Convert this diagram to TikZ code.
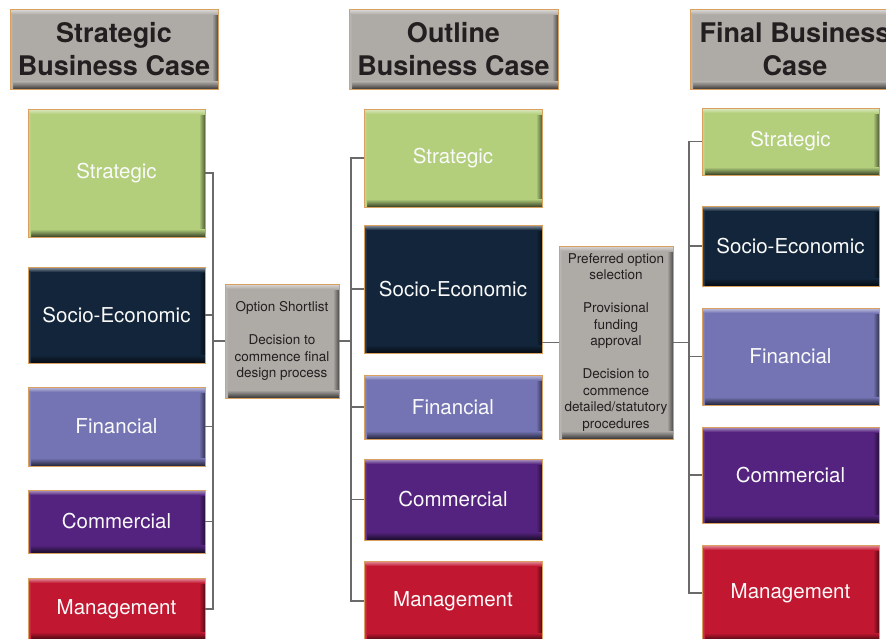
\documentclass[tikz,border=0pt]{standalone}
\usepackage{fontspec}
\setmainfont{TeX Gyre Heros}
\definecolor{cgreen}{HTML}{B3CF7B}
\definecolor{cnavy}{HTML}{12253A}
\definecolor{cfin}{HTML}{7474B4}
\definecolor{cpurp}{HTML}{54237F}
\definecolor{cred}{HTML}{C21730}
\definecolor{cgray}{HTML}{AEAAA6}
\definecolor{edgec}{HTML}{D9A05F}
\definecolor{linec}{HTML}{6A6A6A}
\definecolor{headtxt}{HTML}{231F20}
\tikzset{
  bev/.style={draw=edgec, line width=0.7pt, fill=#1, inner sep=0pt, align=center,
    path picture={
      \coordinate (pp-sw) at (path picture bounding box.south west);
      \coordinate (pp-ne) at (path picture bounding box.north east);
      \coordinate (pp-se) at (pp-sw -| pp-ne);
      \coordinate (pp-nw) at (pp-sw |- pp-ne);
      \shade[left color=#1, right color=#1!45!black] ([xshift=-6pt]pp-se) rectangle (pp-ne);
      \shade[top color=#1, bottom color=#1!30!black] (pp-sw) rectangle ([yshift=8pt]pp-se);
      \shade[top color=#1!45!white, bottom color=#1] ([yshift=-5pt]pp-nw) rectangle (pp-ne);
      \shade[left color=#1!80!white, right color=#1] (pp-sw) rectangle ([xshift=3pt,yshift=-5pt]pp-nw);
    }},
  head/.style={bev=cgray, minimum width=#1, minimum height=80pt, text=headtxt,
    font=\fontsize{27}{33}\selectfont\bfseries},
  card/.style={bev=#1, minimum width=177pt, text=white!96!gray,
    font=\fontsize{20.5}{24}\selectfont},
  gate/.style={bev=cgray, minimum width=114pt, text=headtxt,
    font=\fontsize{13.5}{16.5}\selectfont},
  conn/.style={draw=linec, line width=1.3pt},
}
\begin{document}
\begin{tikzpicture}[x=1pt,y=1pt]
\useasboundingbox (0,0) rectangle (886,-638);
\clip (0,0) rectangle (886,-638);
\fill[white] (0,0) rectangle (886,-638);

% headers
\node[head=208pt] (H1) at (114,-49.5) {Strategic\\Business Case};
\node[head=209pt] (H2) at (453.5,-49.5) {Outline\\Business Case};
\node[head=210pt] (H3) at (795,-49.5) {Final Business\\Case};

% column 1
\node[card=cgreen, minimum height=128pt] (S1) at (116.5,-173) {Strategic};
\node[card=cnavy,  minimum height=96pt]  (E1) at (116.5,-315) {Socio-Economic};
\node[card=cfin,   minimum height=79pt]  (F1) at (116.5,-426.5) {Financial};
\node[card=cpurp,  minimum height=63pt]  (C1) at (116.5,-521.5) {Commercial};
\node[card=cred,   minimum height=62pt]  (M1) at (116.5,-609) {Management};

% column 2
\node[card=cgreen, minimum width=178pt, minimum height=98pt]  (S2) at (453,-158) {Strategic};
\node[card=cnavy,  minimum width=178pt, minimum height=128pt] (E2) at (453,-289) {Socio-Economic};
\node[card=cfin,   minimum width=178pt, minimum height=64pt]  (F2) at (453,-407) {Financial};
\node[card=cpurp,  minimum width=178pt, minimum height=81pt]  (C2) at (453,-499.5) {Commercial};
\node[card=cred,   minimum width=178pt, minimum height=80pt]  (M2) at (453,-601) {Management};

% column 3
\node[card=cgreen, minimum height=67pt] (S3) at (790.5,-141.5) {Strategic};
\node[card=cnavy,  minimum height=80pt] (E3) at (790.5,-246) {Socio-Economic};
\node[card=cfin,   minimum height=97pt] (F3) at (790.5,-356.5) {Financial};
\node[card=cpurp,  minimum height=96pt] (C3) at (790.5,-475) {Commercial};
\node[card=cred,   minimum height=96pt] (M3) at (790.5,-593) {Management};

% gates
\node[gate, minimum height=114pt] (O) at (282,-341) {Option Shortlist\\[16.5pt]Decision to\\commence final\\design process};
\node[gate, minimum height=193pt] (P) at (616,-342.5) {Preferred option\\selection\\[16.5pt]Provisional\\funding\\approval\\[16.5pt]Decision to\\commence\\detailed/statutory\\procedures};

% brackets
\coordinate (b1) at (213,0);
\coordinate (b2) at (351,0);
\coordinate (b3) at (689,0);

\draw[conn] (S1.east) -- (S1.east -| b1) -- (M1.east -| b1) -- (M1.east);
\foreach \n in {E1,F1,C1} \draw[conn] (\n.east) -- (\n.east -| b1);
\draw[conn] (O.west) -- (O.west -| b1);
\draw[conn] (O.east) -- (O.east -| b2);

\draw[conn] (S2.west) -- (S2.west -| b2) -- (M2.west -| b2) -- (M2.west);
\foreach \n in {E2,F2,C2} \draw[conn] (\n.west) -- (\n.west -| b2);
\draw[conn] (P.west) -- (P.west -| E2.east);
\draw[conn] (P.east) -- (P.east -| b3);

\draw[conn] (S3.west) -- (S3.west -| b3) -- (M3.west -| b3) -- (M3.west);
\foreach \n in {E3,F3,C3} \draw[conn] (\n.west) -- (\n.west -| b3);
\end{tikzpicture}
\end{document}
